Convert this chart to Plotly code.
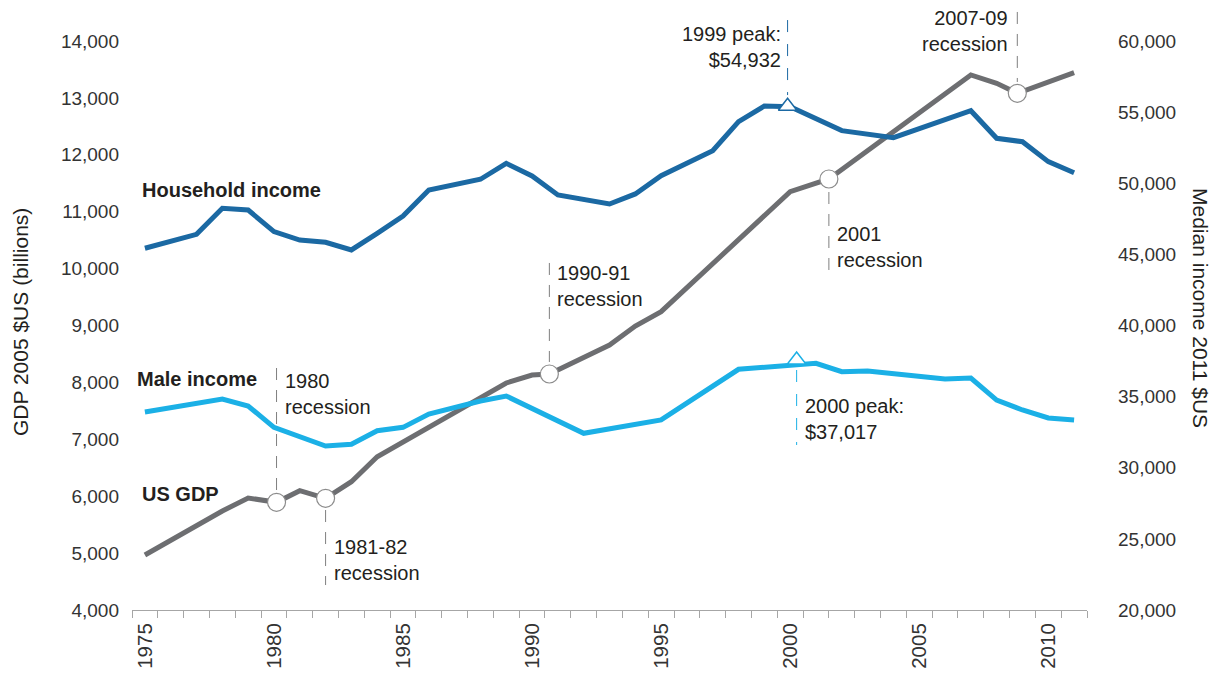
import plotly.graph_objects as go

# ---------------- data ----------------
years = list(range(1975, 2012))

gdp = [4967, None, None, 5740, 5968, None, 6097, None, 6255, 6694,
       None, None, None, None, 7990, 8130, None, None, 8657, 8991,
       9243, None, None, None, None, 11352, None, None, None, None,
       None, None, 13403, 13257, None, None, 13443]

household = [45430, None, 46410, 48240, 48120, 46600, 46010, 45850, 45310, 46480,
             47700, 49530, None, 50280, 51400, 50510, 49180, None, 48540, 49250,
             50530, None, 52290, 54330, 55430, 55380, None, 53700, None, 53200,
             None, None, 55100, 53160, 52920, 51520, 50740]

male = [33920, None, None, 34830, 34340, 32840, None, 31530, 31650, 32600,
        32840, 33780, None, 34690, 35040, None, None, 32420, None, None,
        33360, None, None, 36920, None, None, 37340, 36750, 36800, None,
        None, 36240, 36310, 34760, 34060, 33500, 33360]

recession_x = [1980.1, 1982.0, 1990.67, 2001.5, 2008.8]
recession_gdp = [5893, 5963, 8148, 11575, 13081]
recession_labels = ["1980<br>recession", "1981-82<br>recession", "1990-91<br>recession",
                    "2001<br>recession", "2007-09<br>recession"]

peak_household_x, peak_household_val = 1999.9, 55410
peak_male_x, peak_male_val = 2000.25, 37575

x_tick_years = [1975, 1980, 1985, 1990, 1995, 2000, 2005, 2010]
left_ticks = list(range(4000, 14001, 1000))
right_ticks = list(range(20000, 60001, 5000))

# ---------------- styles ----------------
C_HH = "#1b69a3"
C_MALE = "#1bb0e6"
C_GDP = "#6d6e71"
C_TXT = "#231f20"
C_DASH = "#7f7f7f"
FONT = "Liberation Sans, Arial, sans-serif"

# merge GDP yearly points with recession points for the line
pts = [(x, v) for x, v in zip(years, gdp) if v is not None] + list(zip(recession_x, recession_gdp))
pts.sort()
gdp_x = [p[0] for p in pts]
gdp_y = [p[1] for p in pts]

fig = go.Figure()
fig.add_trace(go.Scatter(x=years, y=household, mode="lines", connectgaps=True,
                         line=dict(color=C_HH, width=5), yaxis="y2", showlegend=False))
fig.add_trace(go.Scatter(x=years, y=male, mode="lines", connectgaps=True,
                         line=dict(color=C_MALE, width=5), yaxis="y2", showlegend=False))
fig.add_trace(go.Scatter(x=gdp_x, y=gdp_y, mode="lines",
                         line=dict(color=C_GDP, width=5), showlegend=False))
fig.add_trace(go.Scatter(x=recession_x, y=recession_gdp, mode="markers",
                         marker=dict(symbol="circle", size=18, color="white",
                                     line=dict(color="#8c8c8c", width=1.2)),
                         showlegend=False, cliponaxis=False))
fig.add_trace(go.Scatter(x=[peak_household_x], y=[peak_household_val], mode="markers", yaxis="y2",
                         marker=dict(symbol="triangle-up", size=16, color="white",
                                     line=dict(color=C_HH, width=1.5)),
                         showlegend=False, cliponaxis=False))
fig.add_trace(go.Scatter(x=[peak_male_x], y=[peak_male_val], mode="markers", yaxis="y2",
                         marker=dict(symbol="triangle-up", size=16, color="white",
                                     line=dict(color=C_MALE, width=1.5)),
                         showlegend=False, cliponaxis=False))

# ---------------- layout ----------------
Y_TOP_LEFT = 14720.6
Y_TOP_RIGHT = 62882

fig.update_layout(
    width=1225, height=673,
    margin=dict(l=132, r=138, t=0, b=63),
    paper_bgcolor="white", plot_bgcolor="white",
    font=dict(family=FONT, color=C_TXT, size=19),
    xaxis=dict(range=[1974.5, 2011.5], tickvals=x_tick_years,
               ticktext=[str(y) for y in x_tick_years], tickangle=-90, ticks="",
               showgrid=False, zeroline=False, showline=True, linecolor="#a6a6a6", linewidth=1,
               minor=dict(tickvals=[y - 0.5 for y in years] + [2011.5], ticks="outside",
                          ticklen=7, tickcolor="#a6a6a6", tickwidth=1),
               ticklabelstandoff=4,
               tickfont=dict(size=20.5, color="#333333")),
    yaxis=dict(range=[4000, Y_TOP_LEFT], tickvals=left_ticks, tickformat=",",
               showgrid=False, zeroline=False, showline=False, ticks="",
               ticklabelstandoff=12, tickfont=dict(size=19, color="#333333")),
    yaxis2=dict(range=[20000, Y_TOP_RIGHT], tickvals=right_ticks, tickformat=",",
                overlaying="y", side="right", showgrid=False, zeroline=False,
                showline=False, ticks="", ticklabelstandoff=30,
                tickfont=dict(size=19, color="#333333")),
)

# series labels
for txt, yv, xs in [("Household income", 11381, -5), ("Male income", 8060, -10), ("US GDP", 6039, -5)]:
    fig.add_annotation(x=1975, y=yv, xref="x", yref="y", text="<b>%s</b>" % txt, showarrow=False,
                       xanchor="left", yanchor="middle", xshift=xs,
                       font=dict(size=20, color=C_TXT))

# recession annotations: (text y, dashed-line y range, anchor)
rec_text_y = [7805, 4879, 9694, 10380, 14176]
rec_line_y = [(8253, 6109), (5757, 4439), (10099, 8359), (11346, 9976), (14510, 13280)]
rec_anchor = ["left", "left", "left", "left", "right"]
for rx, lab, ty, (y0, y1), anc in zip(recession_x, recession_labels, rec_text_y, rec_line_y, rec_anchor):
    fig.add_shape(type="line", xref="x", yref="y", x0=rx, x1=rx, y0=y0, y1=y1,
                  line=dict(color=C_DASH, width=1, dash="12px,10px"))
    fig.add_annotation(x=rx, y=ty, xref="x", yref="y", text=lab, showarrow=False,
                       xanchor=anc, align=anc, yanchor="middle",
                       xshift=6 if anc == "left" else -7, font=dict(size=20, color=C_TXT))

# peak annotations
fig.add_shape(type="line", xref="x", yref="y", x0=peak_household_x, x1=peak_household_x,
              y0=14368, y1=13050, line=dict(color=C_HH, width=1, dash="12px,12px"))
fig.add_annotation(x=peak_household_x, y=13895, xref="x", yref="y",
                   text="1999 peak:<br>$54,932", showarrow=False, xanchor="right", align="right",
                   yanchor="middle", xshift=-5, font=dict(size=20, color=C_TXT))
fig.add_shape(type="line", xref="x", yref="y", x0=peak_male_x, x1=peak_male_x,
              y0=8218, y1=6900, line=dict(color=C_MALE, width=1, dash="12px,12px"))
fig.add_annotation(x=peak_male_x, y=7357, xref="x", yref="y",
                   text="2000 peak:<br>$37,017", showarrow=False, xanchor="left", align="left",
                   yanchor="middle", xshift=6, font=dict(size=20, color=C_TXT))

# axis titles
fig.add_annotation(x=-0.1173, y=9060, xref="paper", yref="y", text="GDP 2005 $US (billions)",
                   textangle=-90, showarrow=False, xanchor="center", yanchor="middle",
                   font=dict(size=21, color=C_TXT))
fig.add_annotation(x=1.1183, y=9308, xref="paper", yref="y", text="Median income 2011 $US",
                   textangle=90, showarrow=False, xanchor="center", yanchor="middle",
                   font=dict(size=21, color=C_TXT))

fig.write_html("out.html")
